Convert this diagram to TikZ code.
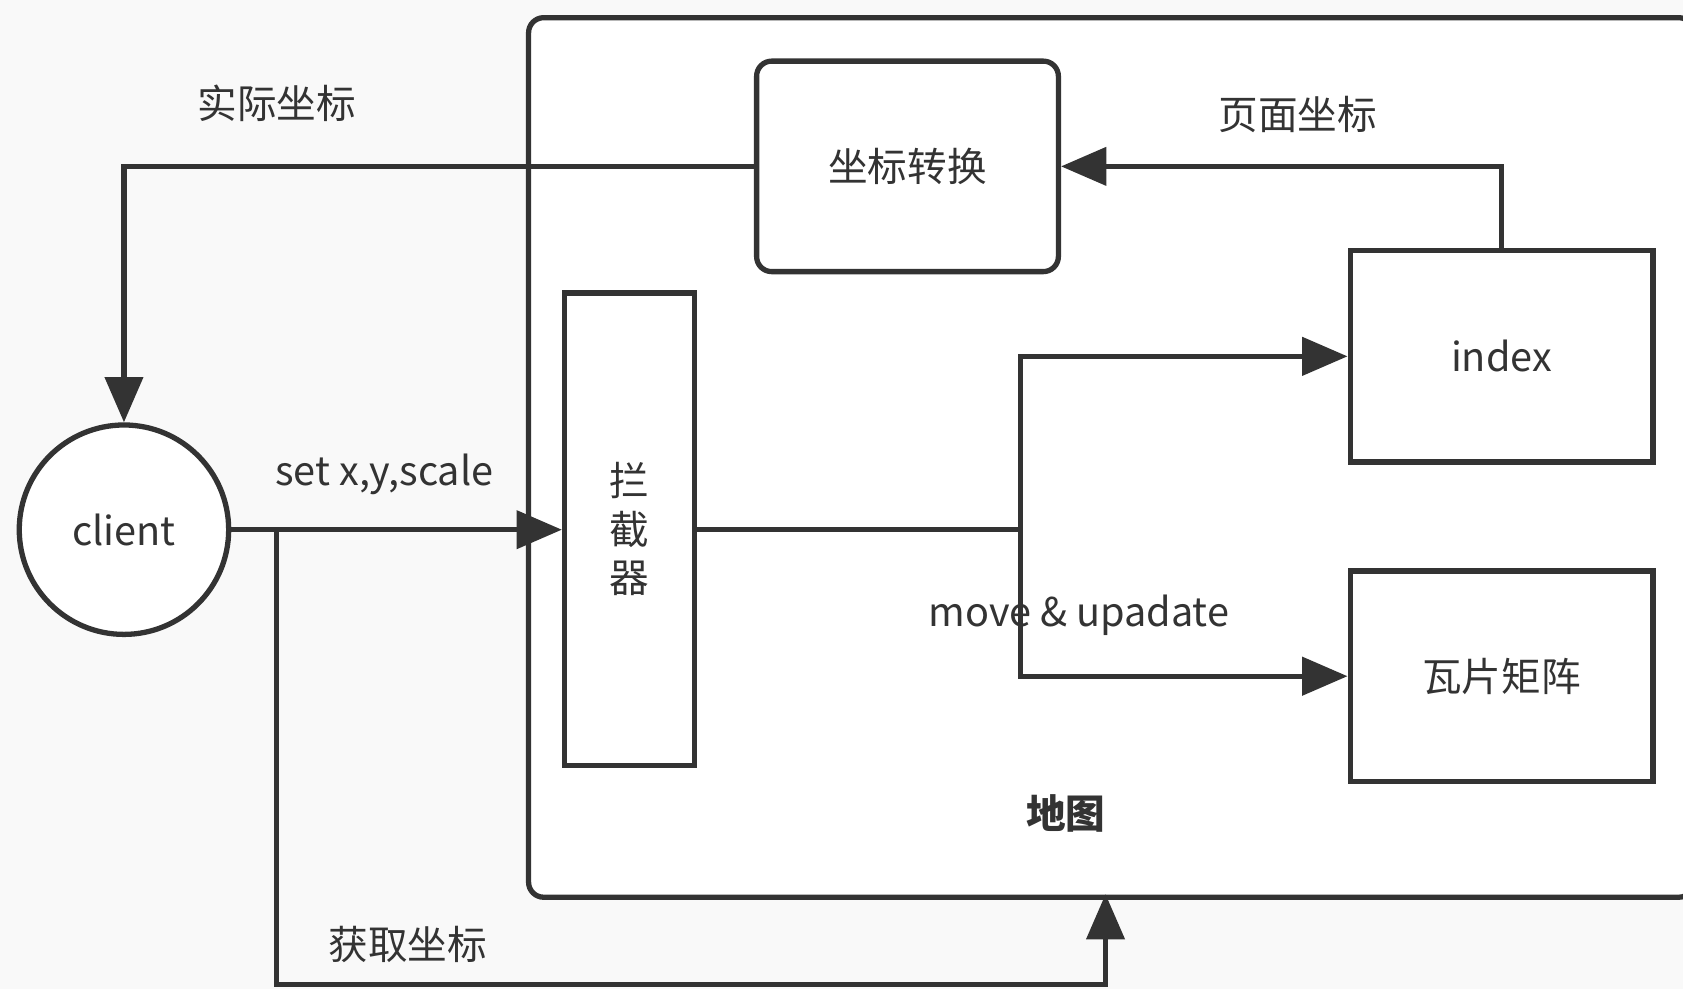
\documentclass[tikz,border=0pt]{standalone}
\usepackage{fontspec}
\setmainfont{Noto Sans CJK SC}
\usetikzlibrary{arrows.meta}
\definecolor{ink}{HTML}{333333}
\definecolor{paper}{HTML}{F9F9F9}

\begin{document}
\begin{tikzpicture}[x=0.01cm,y=-0.01cm,line width=1.35pt,color=ink,
    font=\fontsize{10.5}{12}\selectfont,
    box/.style={draw=ink,fill=white,line width=1.4pt,inner sep=0pt},
    conn/.style={draw=ink,line width=1.35pt},
    arr/.style={conn,-{Triangle[length=12pt,width=10pt]}},
    lbl/.style={text=ink,inner sep=0pt}]
    \clip (0,0) rectangle (1568,921);
    \useasboundingbox (0,0) rectangle (1568,921);
    \fill[paper] (0,0) rectangle (1568,921);

    % the map container
    \node[box,rounded corners=4pt,anchor=north west,minimum width=10.85cm,minimum height=8.19cm] (map) at (490,14) {};
    \node[lbl,font=\fontsize{10.5}{12}\selectfont\bfseries] (maplbl) at (993,758) {地图};

    % boxes
    \node[box,rounded corners=4pt,minimum width=2.81cm,minimum height=1.96cm] (conv) at (845.5,155) {坐标转换};
    \node[box,minimum width=1.21cm,minimum height=4.40cm,align=center,font=\fontsize{10.5}{12.8}\selectfont] (filter) at (586.5,493) {拦\\截\\器};
    \node[box,minimum width=2.82cm,minimum height=1.97cm] (index) at (1399,332) {index};
    \node[box,minimum width=2.82cm,minimum height=1.96cm] (tiles) at (1399,630) {瓦片矩阵};
    \node[box,circle,minimum size=1.95cm] (client) at (115.5,493.5) {client};

    % connectors
    \coordinate (split) at (951,493);
    \coordinate (tap) at (258,493);
    \coordinate (low) at (258,917);
    \coordinate (mapin) at (1030,833);
    \draw[arr] (client) -- (filter.west|-client);
    \node[lbl] (setlbl) at (358,442) {set x,y,scale};
    \draw[conn] (filter.east|-split) -- (split);
    \draw[arr] (split) |- (index.west);
    \draw[arr] (split) |- (tiles.west);
    \node[lbl] (movelbl) at (1005,573) {move \& upadate};
    \draw[arr] (index.north) |- (conv.east);
    \node[lbl] (pagelbl) at (1209,107) {页面坐标};
    \draw[arr] (conv.west) -| (client.north);
    \node[lbl] (reallbl) at (258,96) {实际坐标};
    \draw[arr] (tap) -- (low) -| (mapin);
    \node[lbl] (getlbl) at (380,880) {获取坐标};
\end{tikzpicture}
\end{document}
